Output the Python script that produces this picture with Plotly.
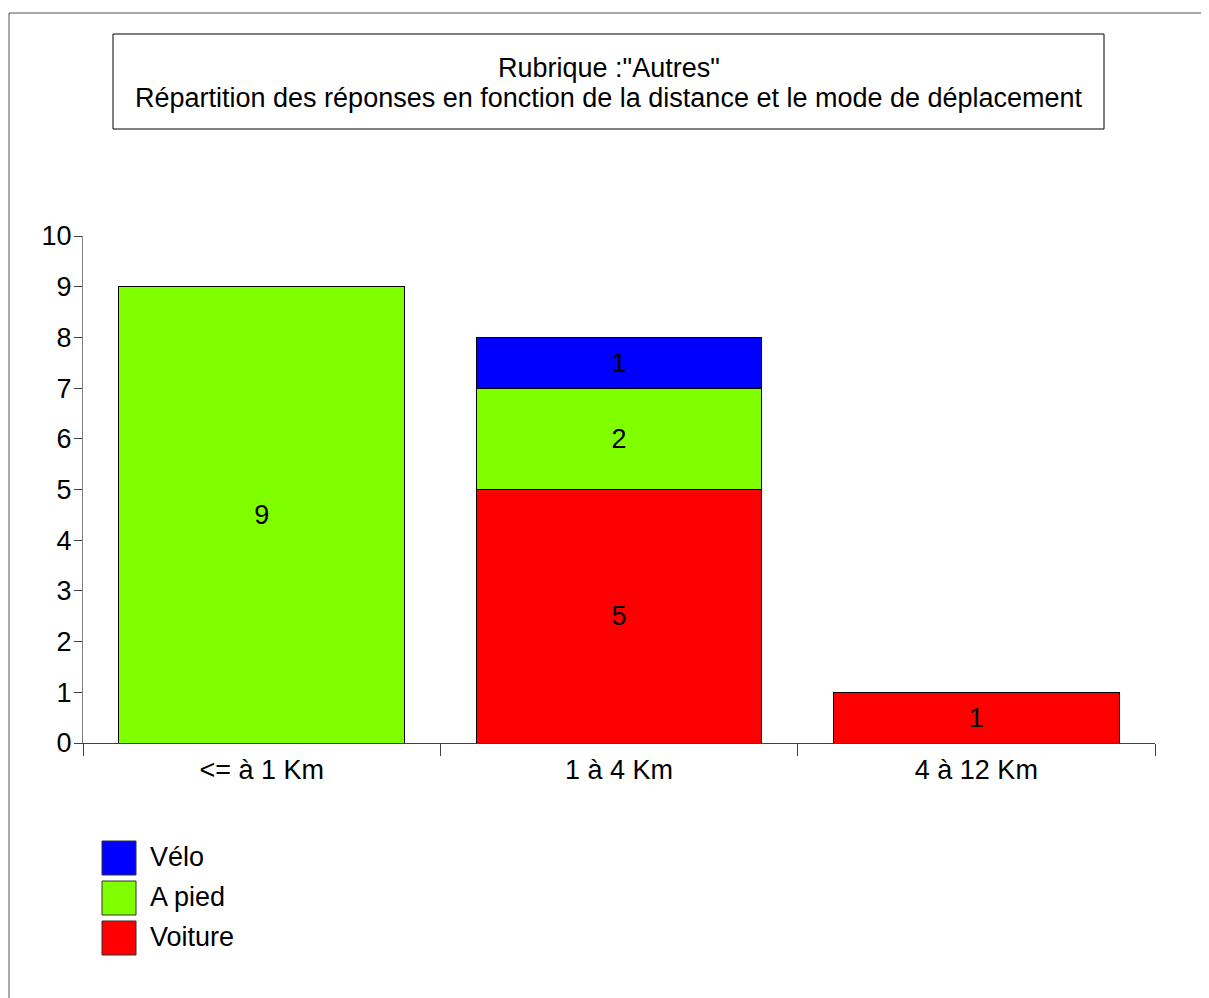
import plotly.graph_objects as go

categories = ["<= à 1 Km", "1 à 4 Km", "4 à 12 Km"]
series_names = ["Voiture", "A pied", "Vélo"]
series_values = [
    [0, 5, 1],
    [9, 2, 0],
    [0, 1, 0],
]
series_colors = ["#FF0000", "#80FF00", "#0000FF"]
y_ticks = list(range(0, 11))

title_lines = ['Rubrique :"Autres"',
               "Répartition des réponses en fonction de la distance et le mode de déplacement"]

FONT = "Liberation Sans, Arial, sans-serif"
FS = 27

fig = go.Figure()
for name, vals, color in zip(series_names, series_values, series_colors):
    fig.add_trace(go.Bar(
        x=categories,
        y=[v if v else None for v in vals],
        name=name,
        marker=dict(color=color, line=dict(color="black", width=1)),
        text=[str(v) if v else "" for v in vals],
        textposition="inside",
        insidetextanchor="middle",
        textangle=0,
        textfont=dict(color="black", size=FS, family=FONT),
        showlegend=False,
    ))

# page has an 8px body margin; positions below are page pixels
OFF = 8
W, H = 1209 - OFF, 998 - OFF
L, R, T, B = 83 - OFF, 54, 236 - OFF, 255
pw, ph = W - L - R, H - T - B


def px(x):
    return (x - OFF - L) / pw


def py(y):
    return (H - B - (y - OFF)) / ph


shapes = [
    # outer frame
    dict(type="rect", xref="paper", yref="paper", x0=px(9), x1=px(1230), y0=py(1020), y1=py(13),
         line=dict(color="#555555", width=1)),
    # title box
    dict(type="rect", xref="paper", yref="paper", x0=px(113), x1=px(1104), y0=py(129), y1=py(34),
         line=dict(color="black", width=1)),
]
annotations = []
for i, line in enumerate(title_lines):
    annotations.append(dict(xref="paper", yref="paper", x=px(609), y=py(68 + 30 * i), text=line,
                            showarrow=False, font=dict(size=FS, color="black", family=FONT),
                            xanchor="center", yanchor="middle"))

# legend (top to bottom: reversed stacking order)
for i, (name, color) in enumerate(zip(series_names[::-1], series_colors[::-1])):
    top = 841 + i * 40
    shapes.append(dict(type="rect", xref="paper", yref="paper", x0=px(102), x1=px(136),
                       y0=py(top + 34), y1=py(top), fillcolor=color,
                       line=dict(color="#333333", width=1)))
    annotations.append(dict(xref="paper", yref="paper", x=px(148), y=py(top + 16), text=name,
                            showarrow=False, xanchor="left", yanchor="middle",
                            font=dict(size=FS, color="black", family=FONT)))

fig.update_layout(
    width=W, height=H,
    margin=dict(l=L, r=R, t=T, b=B, pad=0),
    barmode="stack",
    bargap=0.2,
    plot_bgcolor="white",
    paper_bgcolor="white",
    font=dict(family=FONT, size=FS, color="black"),
    shapes=shapes,
    annotations=annotations,
    showlegend=False,
)
fig.update_xaxes(
    showline=True, linecolor="#404040", linewidth=1,
    ticks="outside", ticklen=12, tickcolor="#404040", tickson="boundaries",
    showgrid=False, tickfont=dict(size=FS), mirror=False, ticklabelstandoff=3,
)
fig.update_yaxes(
    range=[0, 10], tickvals=y_ticks, showline=True, linecolor="#808080", linewidth=1,
    ticks="outside", ticklen=8, tickcolor="#404040", showgrid=False, zeroline=False,
    tickfont=dict(size=FS), ticklabelstandoff=-3,
)

fig.write_html("out.html")
